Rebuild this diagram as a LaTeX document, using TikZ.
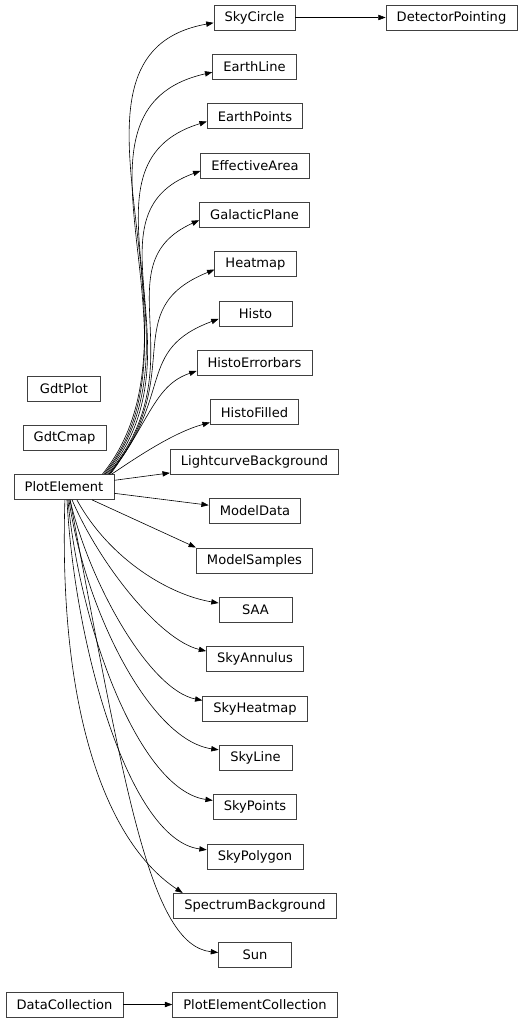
\documentclass[tikz,border=0pt]{standalone}
\usepackage{fontspec}
\setmainfont{DejaVu Sans}
\usepackage{tikz}
\usetikzlibrary{arrows.meta}

\begin{document}
\begin{tikzpicture}[x=0.75pt,y=-0.75pt,
			cls/.style={draw=black!75,line width=0.6pt,minimum width=54.75pt,minimum height=18.75pt,inner xsep=8pt,inner ysep=0pt,font=\fontsize{9.8}{12}\selectfont},
			inh/.style={draw=black,line width=0.45pt,-{Triangle[length=5.5pt,width=4pt]}}
			]
			\useasboundingbox (0,0) rectangle (523,1023);
			% left column
			\node[cls] (gp) at (64,388.5) {GdtPlot};
			\node[cls] (gc) at (64.5,437.5) {GdtCmap};
			\node[cls] (pe) at (64,487) {PlotElement};
			\node[cls] (dc) at (64.5,1004.5) {DataCollection};
			% right column
			\node[cls] (sc) at (254.5,17.5) {SkyCircle};
			\node[cls] (dp) at (451.5,17.5) {DetectorPointing};
			\node[cls] (el) at (254.5,66.9) {EarthLine};
			\node[cls] (ep) at (255,116.2) {EarthPoints};
			\node[cls] (ea) at (255,165.6) {EffectiveArea};
			\node[cls] (gl) at (254.5,214.9) {GalacticPlane};
			\node[cls] (hm) at (255.5,264.3) {Heatmap};
			\node[cls] (hi) at (255.5,313.6) {Histo};
			\node[cls] (he) at (254.5,363) {HistoErrorbars};
			\node[cls] (hf) at (254.5,412.3) {HistoFilled};
			\node[cls] (lb) at (254.5,461.7) {LightcurveBackground};
			\node[cls] (md) at (255,511) {ModelData};
			\node[cls] (ms) at (254.5,560.4) {ModelSamples};
			\node[cls] (sa) at (255.5,609.7) {SAA};
			\node[cls] (an) at (255,659.1) {SkyAnnulus};
			\node[cls] (sh) at (255,708.4) {SkyHeatmap};
			\node[cls] (sl) at (255.5,757.8) {SkyLine};
			\node[cls] (sp) at (255,807.1) {SkyPoints};
			\node[cls] (sy) at (255,856.5) {SkyPolygon};
			\node[cls] (sb) at (255,905.8) {SpectrumBackground};
			\node[cls] (su) at (255,955.2) {Sun};
			\node[cls] (pc) at (255,1004.5) {PlotElementCollection};
			% edges
			\draw[inh] (sc) -- (dp);
			\draw[inh] (dc) -- (pc);
			\draw[inh] ([xshift=-9pt]pe.north east) .. controls (220,330) and (35,55) .. ([yshift=-4pt]sc.west);
			\draw[inh] ([xshift=-8pt]pe.north east) .. controls (215,340) and (45,110) .. ([yshift=-4pt]el.west);
			\draw[inh] ([xshift=-7pt]pe.north east) .. controls (210,345) and (65,165) .. ([yshift=-4pt]ep.west);
			\draw[inh] ([xshift=-6pt]pe.north east) .. controls (205,355) and (80,215) .. ([yshift=-4pt]ea.west);
			\draw[inh] ([xshift=-5pt]pe.north east) .. controls (200,365) and (100,265) .. ([yshift=-4pt]gl.west);
			\draw[inh] ([xshift=-4pt]pe.north east) .. controls (190,375) and (115,310) .. ([yshift=-4pt]hm.west);
			\draw[inh] ([xshift=-4pt]pe.north east) .. controls (175,395) and (135,350) .. ([yshift=-4pt]hi.west);
			\draw[inh] ([xshift=-3pt]pe.north east) .. controls (150,420) and (155,385) .. ([yshift=-6pt]he.west);
			\draw[inh] ([xshift=-2pt]pe.north east) .. controls (140,455) and (175,432) .. ([yshift=2pt]hf.south west);
			\draw[inh] (pe) -- (lb);
			\draw[inh] (pe) -- (md);
			\draw[inh] (pe) -- (ms.north west);
			\draw[inh] (pe.-45) .. controls (110,560) and (170,595) .. ([yshift=5pt]sa.west);
			\draw[inh] (pe.-58) .. controls (100,565) and (160,640) .. ([yshift=6pt]an.west);
			\draw[inh] (pe.-65) .. controls (90,585) and (150,690) .. ([yshift=6pt]sh.west);
			\draw[inh] (pe.-69) .. controls (85,610) and (150,740) .. ([yshift=6pt]sl.west);
			\draw[inh] (pe.-73) .. controls (80,630) and (140,790) .. ([yshift=5pt]sp.west);
			\draw[inh] (pe.-77) .. controls (75,650) and (130,840) .. ([yshift=5pt]sy.west);
			\draw[inh] (pe.-86) .. controls (58,720) and (110,845) .. ([xshift=7pt]sb.north west);
			\draw[inh] (pe.-65) .. controls (125,790) and (150,945) .. ([yshift=2pt]su.west);
		\end{tikzpicture}
\end{document}
